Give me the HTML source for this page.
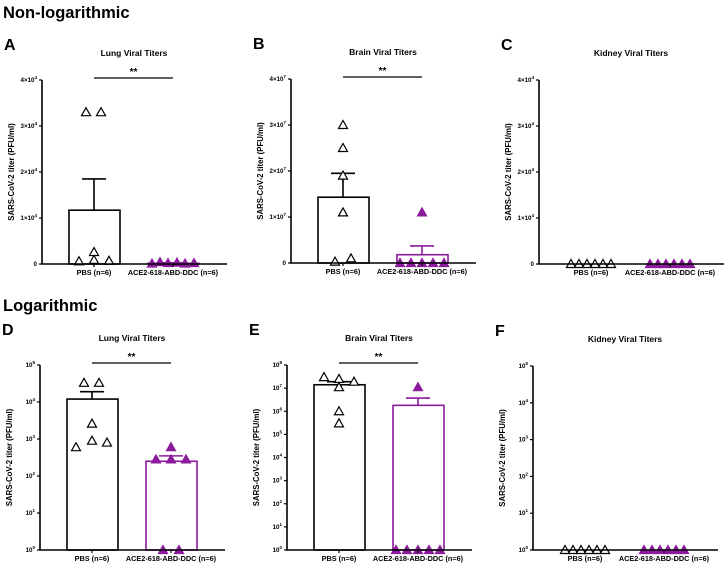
<!DOCTYPE html>
<html><head><meta charset="utf-8"><style>
body{margin:0;background:#fff;width:727px;height:569px;overflow:hidden;font-family:"Liberation Sans",Arial,sans-serif}
svg{display:block}
</style></head><body>
<svg id="fig" width="727" height="569" viewBox="0 0 727 569" xmlns="http://www.w3.org/2000/svg" font-family="Liberation Sans, Arial, sans-serif">
<text x="3" y="18" font-size="16.5" font-weight="bold">Non-logarithmic</text>
<text x="3" y="311" font-size="16.5" font-weight="bold">Logarithmic</text>
</svg>
<script>
const groups = ["PBS (n=6)", "ACE2-618-ABD-DDC (n=6)"];
// Panel A lung linear
const aMeans = [11700, 150];
const aErr = [18500, 250];
const aPBS = [33000, 33000, 2600, 600, 900, 700];
const aACE = [100, 400, 200, 300, 100, 200];
// Panel B brain linear
const bMeans = [14300000, 1800000];
const bErr = [19500000, 3700000];
const bPBS = [30000000, 25000000, 19000000, 11000000, 300000, 1000000];
const bACE = [0, 0, 0, 11000000, 0, 0];
// Panel C kidney linear
const cMeans = [0, 0];
const cErr = [0, 0];
const cPBS = [0, 0, 0, 0, 0, 0];
const cACE = [0, 0, 0, 0, 0, 0];
// Panel D lung log
const dMeans = [12000, 250];
const dErr = [19000, 350];
const dPBS = [33000, 33000, 2600, 600, 900, 800];
const dACE = [280, 600, 280, 1, 280, 1];
// Panel E brain log
const eMeans = [14000000, 1800000];
const eErr = [19000000, 3700000];
const ePBS = [30000000, 25000000, 11000000, 1000000, 300000, 19000000];
const eACE = [1, 1, 11000000, 1, 1, 1];
// Panel F kidney log
const fMeans = [1, 1];
const fErr = [1, 1];
const fPBS = [1, 1, 1, 1, 1, 1];
const fACE = [1, 1, 1, 1, 1, 1];
// tick labels
const linTicksA = [0, 10000, 20000, 30000, 40000];
const linTicksB = [0, 1e7, 2e7, 3e7, 4e7];
const logTicksD = [0, 1, 2, 3, 4, 5];
const logTicksE = [0, 1, 2, 3, 4, 5, 6, 7, 8];
const logTicksF = [0, 1, 2, 3, 4, 5];

const NS = "http://www.w3.org/2000/svg";
const svg = document.getElementById("fig");
function el(tag, attrs, parent){const e=document.createElementNS(NS,tag);for(const k in attrs)e.setAttribute(k,attrs[k]);(parent||svg).appendChild(e);return e;}
const PURPLE = "#8b1a9c";

function panel(cfg){
  const g = el("g",{});
  
  
  const x0=cfg.x0, top=cfg.top, bot=cfg.bot, xEnd=x0+185;
  let ys;
  if(cfg.log){const lo=0,hi=cfg.ticks[cfg.ticks.length-1];ys=v=>{const l=Math.log10(Math.max(v,1));return bot-(l-lo)/(hi-lo)*(bot-top);};}
  else {const hi=cfg.ticks[cfg.ticks.length-1];ys=v=>bot-v/hi*(bot-top);}
  const xs = i => x0 + (i===0 ? 52 : 131);
  const L=el("text",{x:cfg.x0-38,y:top-30,"font-size":16,"font-weight":"bold"},g); L.textContent=cfg.letter;
  
  
  const T=el("text",{x:x0+92,y:top-24,"font-size":8.5,"font-weight":"bold","text-anchor":"middle"},g); T.textContent=cfg.title;
  
  
  const yt=el("text",{x:0,y:0,"font-size":7.8,"font-weight":"bold","text-anchor":"middle",transform:`translate(${x0-28},${(top+bot)/2}) rotate(-90)`},g); yt.textContent="SARS-CoV-2 titer (PFU/ml)";
  
  
  for(let i=0;i<2;i++){
    const col=i===0?"#000":PURPLE;
    const yb=ys(cfg.means[i]);
    const r=el("rect",{x:xs(i)-25,y:Math.min(yb,bot),width:51,height:Math.max(bot-yb,0),fill:"#fff",stroke:col,"stroke-width":1.6},g);
    
    
    if(cfg.err[i]>cfg.means[i]){
      const ye=ys(cfg.err[i]);
      const e1=el("path",{d:`M${xs(i)} ${yb}V${ye}M${xs(i)-12} ${ye}H${xs(i)+12}`,stroke:col,"stroke-width":1.6,fill:"none"},g);
      
      
    }
  }
  const pts=[cfg.pbs,cfg.ace];
  for(let i=0;i<2;i++){
    pts[i].forEach((v,j)=>{
      const off=cfg.offs[i][j];
      const cx=xs(i)+off, cy=ys(v);
      const p=el("path",{d:`M${cx} ${cy-4.5}L${cx+4.5} ${cy+3.5}L${cx-4.5} ${cy+3.5}Z`,fill:i===0?"#fff":PURPLE,stroke:i===0?"#000":PURPLE,"stroke-width":1.2},g);
      
      
    });
  }
  const ax=el("path",{d:`M${x0} ${top}V${bot}H${xEnd}`,stroke:"#000","stroke-width":1.6,fill:"none"},g);
  
  
  cfg.ticks.forEach(t=>{
    const y=cfg.log?ys(Math.pow(10,t)):ys(t);
    el("path",{d:`M${x0-3} ${y}H${x0}`,stroke:"#000","stroke-width":1.2},g);
    const tx=el("text",{x:x0-5,y:y+2,"font-size":6.2,"font-weight":"bold","text-anchor":"end"},g);
    
    
    if(cfg.log){tx.innerHTML=`10<tspan dy="-3" font-size="4.5">${t}</tspan>`;}
    else if(t===0){tx.textContent="0";}
    else{const e=Math.floor(Math.log10(t));const m=Math.round(t/Math.pow(10,e));tx.innerHTML=`${m}×10<tspan dy="-3" font-size="4.5">${e}</tspan>`;}
  });
  for(let i=0;i<2;i++){
    el("path",{d:`M${xs(i)} ${bot}V${bot+3}`,stroke:"#000","stroke-width":1.2},g);
    const gl=el("text",{x:xs(i),y:bot+11,"font-size":7.3,"font-weight":"bold","text-anchor":"middle"},g); gl.textContent=groups[i];
    
    
  }
  if(cfg.sig){
    const sl=el("path",{d:`M${xs(0)} ${top-2}H${xs(1)}`,stroke:"#000","stroke-width":1.2},g);
    
    
    const st=el("text",{x:(xs(0)+xs(1))/2,y:top-5,"font-size":10,"font-weight":"bold","text-anchor":"middle"},g); st.textContent="**";
    
    
  }
}
panel({letter:"A",title:"Lung Viral Titers",x0:42,top:80,bot:264,log:false,ticks:linTicksA,means:aMeans,err:aErr,pbs:aPBS,ace:aACE,sig:true,
  offs:[[-8,7,0,-15,0,15],[-21,-13,-5,4,12,21]]});
panel({letter:"B",title:"Brain Viral Titers",x0:291,top:79,bot:263,log:false,ticks:linTicksB,means:bMeans,err:bErr,pbs:bPBS,ace:bACE,sig:true,
  offs:[[0,0,0,0,-8,8],[-22,-11,0,0,11,22]]});
panel({letter:"C",title:"Kidney Viral Titers",x0:539,top:80,bot:264,log:false,ticks:linTicksA,means:cMeans,err:cErr,pbs:cPBS,ace:cACE,sig:false,
  offs:[[-20,-12,-4,4,12,20],[-20,-12,-4,4,12,20]]});
panel({letter:"D",title:"Lung Viral Titers",x0:40,top:365,bot:550,log:true,ticks:logTicksD,means:dMeans,err:dErr,pbs:dPBS,ace:dACE,sig:true,
  offs:[[-8,7,0,-16,0,15],[-15,0,0,-8,15,8]]});
panel({letter:"E",title:"Brain Viral Titers",x0:287,top:365,bot:550,log:true,ticks:logTicksE,means:eMeans,err:eErr,pbs:ePBS,ace:eACE,sig:true,
  offs:[[-15,0,0,0,0,15],[-22,-11,0,0,11,22]]});
panel({letter:"F",title:"Kidney Viral Titers",x0:533,top:366,bot:550,log:true,ticks:logTicksF,means:fMeans,err:fErr,pbs:fPBS,ace:fACE,sig:false,
  offs:[[-20,-12,-4,4,12,20],[-20,-12,-4,4,12,20]]});
</script>
</body></html>
